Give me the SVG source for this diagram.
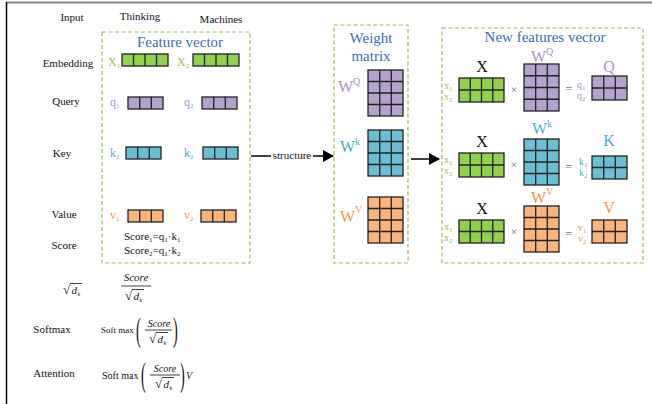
<svg xmlns="http://www.w3.org/2000/svg" width="652" height="404" viewBox="0 0 652 404">
<style>
text{font-family:"Liberation Serif","Times New Roman",serif;}
.lbl{font-size:11px;fill:#111;text-anchor:middle;}
.ttl{font-size:15px;fill:#3d6db5;text-anchor:middle;}
.box{fill:none;stroke:#9bbb59;stroke-width:1.2;stroke-dasharray:4 2.5;}
.g{fill:#92d050;}.p{fill:#b4a3cc;}.b{fill:#6cbed3;}.o{fill:#f8b57e;}
.gr rect{stroke:#222;stroke-width:1.3;}
.gr path{stroke:#222;stroke-width:1.3;fill:none;}
.tg{fill:#9bbb59;}.tp{fill:#a892c6;}.tb{fill:#4bacc6;}.to{fill:#f79646;}
.v{font-size:12px;}
.sm{font-size:10px;}
.big{font-size:16px;}
.X{font-size:16px;fill:#111;text-anchor:middle;}
.op{font-size:12px;fill:#777;text-anchor:middle;}
.it{font-style:italic;}
.conn line{stroke:#000;stroke-width:1.5;}
</style>
<defs>
<marker id="ah" markerWidth="11" markerHeight="12" refX="10" refY="6" orient="auto" markerUnits="userSpaceOnUse">
<path d="M0,0 L11,6 L0,12 z" fill="#000"/>
</marker>
<g id="sq">
<text x="0" y="10" style="font-size:13px" fill="#111">√</text>
<line x1="7" y1="-0.5" x2="19" y2="-0.5" stroke="#111" stroke-width="0.8"/>
<text x="8.5" y="10" class="it" style="font-size:11px" fill="#111">d</text>
<text x="14.5" y="12" class="it" style="font-size:6px" fill="#111">k</text>
</g>
</defs>

<!-- frame -->
<line x1="6" y1="2.5" x2="652" y2="2.5" stroke="#888" stroke-width="2"/>
<line x1="6.5" y1="2" x2="6.5" y2="404" stroke="#000" stroke-width="1.5"/>

<!-- row labels -->
<g id="labels">
<text class="lbl" x="72" y="21">Input</text>
<text class="lbl" x="140" y="20">Thinking</text>
<text class="lbl" x="221" y="23">Machines</text>
<text class="lbl" x="68" y="67">Embedding</text>
<text class="lbl" x="66" y="105">Query</text>
<text class="lbl" x="62" y="157">Key</text>
<text class="lbl" x="64" y="218">Value</text>
<text class="lbl" x="64" y="249">Score</text>
<text class="lbl" x="52" y="333">Softmax</text>
<text class="lbl" x="54" y="377">Attention</text>
</g>

<!-- Feature vector -->
<g id="feature-vector">
<rect class="box" x="102" y="32" width="148" height="231"/>
<text class="ttl" x="180" y="47">Feature vector</text>
<text class="tg v" x="108" y="66">X<tspan dy="2" style="font-size:7px">1</tspan></text>
<g class="gr"><rect class="g" x="122" y="54" width="46" height="12"/><path d="M133.5,54v12M145,54v12M156.5,54v12"/></g>
<text class="tg v" x="177" y="66">X<tspan dy="2" style="font-size:7px">2</tspan></text>
<g class="gr"><rect class="g" x="193" y="54" width="46" height="12"/><path d="M204.5,54v12M216,54v12M227.5,54v12"/></g>

<text class="tp v" x="110" y="106">q<tspan dy="2" style="font-size:7px">1</tspan></text>
<g class="gr"><rect class="p" x="128" y="97" width="35" height="12"/><path d="M139.7,97v12M151.3,97v12"/></g>
<text class="tp v" x="184" y="106">q<tspan dy="2" style="font-size:7px">2</tspan></text>
<g class="gr"><rect class="p" x="202" y="97" width="35" height="12"/><path d="M213.7,97v12M225.3,97v12"/></g>

<text class="tb v" x="110" y="157">k<tspan dy="2" style="font-size:7px">1</tspan></text>
<g class="gr"><rect class="b" x="126" y="147" width="35" height="12"/><path d="M137.7,147v12M149.3,147v12"/></g>
<text class="tb v" x="184" y="157">k<tspan dy="2" style="font-size:7px">2</tspan></text>
<g class="gr"><rect class="b" x="203" y="147" width="35" height="12"/><path d="M214.7,147v12M226.3,147v12"/></g>

<text class="to v" x="110" y="219">v<tspan dy="2" style="font-size:7px">1</tspan></text>
<g class="gr"><rect class="o" x="128" y="210" width="35" height="12"/><path d="M139.7,210v12M151.3,210v12"/></g>
<text class="to v" x="184" y="219">v<tspan dy="2" style="font-size:7px">2</tspan></text>
<g class="gr"><rect class="o" x="201" y="210" width="35" height="12"/><path d="M212.7,210v12M224.3,210v12"/></g>

<text x="124" y="240" style="font-size:11px" fill="#111">Score<tspan dy="2" style="font-size:7px">1</tspan><tspan dy="-2">=q</tspan><tspan dy="2" style="font-size:7px">1</tspan><tspan dy="-2">·k</tspan><tspan dy="2" style="font-size:7px">1</tspan></text>
<text x="124" y="254" style="font-size:11px" fill="#111">Score<tspan dy="2" style="font-size:7px">2</tspan><tspan dy="-2">=q</tspan><tspan dy="2" style="font-size:7px">1</tspan><tspan dy="-2">·k</tspan><tspan dy="2" style="font-size:7px">2</tspan></text>
</g>

<!-- formulas -->
<g id="formulas">
<use href="#sq" x="63" y="284"/>
<text x="136" y="281" class="it" text-anchor="middle" style="font-size:11px" fill="#111">Score</text>
<line x1="121" y1="286" x2="151" y2="286" stroke="#111" stroke-width="0.8"/>
<use href="#sq" x="125" y="290"/>

<text x="101" y="333" style="font-size:9px" fill="#111">Soft max</text>
<text x="0" y="0" transform="translate(136,341) scale(0.42,1)" style="font-size:34px" fill="#111">(</text>
<text x="159" y="327" class="it" text-anchor="middle" style="font-size:10px" fill="#111">Score</text>
<line x1="145" y1="330" x2="172" y2="330" stroke="#111" stroke-width="0.8"/>
<use href="#sq" x="149" y="333"/>
<text x="0" y="0" transform="translate(173,341) scale(0.42,1)" style="font-size:34px" fill="#111">)</text>

<text x="102" y="379" style="font-size:10px" fill="#111">Soft max</text>
<text x="0" y="0" transform="translate(141,386) scale(0.42,1)" style="font-size:34px" fill="#111">(</text>
<text x="165" y="372" class="it" text-anchor="middle" style="font-size:10px" fill="#111">Score</text>
<line x1="150" y1="375" x2="180" y2="375" stroke="#111" stroke-width="0.8"/>
<use href="#sq" x="155" y="378"/>
<text x="0" y="0" transform="translate(180,386) scale(0.42,1)" style="font-size:34px" fill="#111">)</text>
<text x="186" y="379" class="it" style="font-size:10px" fill="#111">V</text>
</g>

<!-- Weight matrix -->
<g id="weight-matrix">
<rect class="box" x="334" y="25" width="74" height="238"/>
<text class="ttl" x="371" y="43">Weight</text>
<text class="ttl" x="371" y="61">matrix</text>
<text class="tp big" x="338" y="92">W<tspan dy="-7" style="font-size:10px">Q</tspan></text>
<g class="gr"><rect class="p" x="368" y="70" width="35" height="46"/><path d="M379.7,70v46M391.3,70v46M368,81.5h35M368,93h35M368,104.5h35"/></g>
<text class="tb big" x="340" y="152">W<tspan dy="-7" style="font-size:10px">k</tspan></text>
<g class="gr"><rect class="b" x="368" y="130" width="35" height="46"/><path d="M379.7,130v46M391.3,130v46M368,141.5h35M368,153h35M368,164.5h35"/></g>
<text class="to big" x="340" y="222">W<tspan dy="-9" style="font-size:10px">V</tspan></text>
<g class="gr"><rect class="o" x="368" y="197" width="35" height="46"/><path d="M379.7,197v46M391.3,197v46M368,208.5h35M368,220h35M368,231.5h35"/></g>
</g>

<!-- New features vector -->
<g id="new-features">
<rect class="box" x="442" y="28" width="201" height="235"/>
<text class="ttl" x="545" y="42">New features vector</text>

<!-- Q row -->
<text class="X" x="482" y="72">X</text>
<text class="tg sm" x="444" y="89">x<tspan dy="2" style="font-size:7px">1</tspan></text>
<text class="tg sm" x="444" y="100">x<tspan dy="2" style="font-size:7px">2</tspan></text>
<g class="gr"><rect class="g" x="459" y="78" width="45" height="24"/><path d="M470.25,78v24M481.5,78v24M492.75,78v24M459,90h45"/></g>
<text class="op" x="514" y="94">×</text>
<text class="tp big" x="531" y="62">W<tspan dy="-7" style="font-size:10px">Q</tspan></text>
<g class="gr"><rect class="p" x="524" y="64" width="35" height="47"/><path d="M535.7,64v47M547.3,64v47M524,75.75h35M524,87.5h35M524,99.25h35"/></g>
<text class="op" x="569" y="93">=</text>
<text class="tp sm" x="577" y="88">q<tspan dy="2" style="font-size:7px">1</tspan></text>
<text class="tp sm" x="577" y="99">q<tspan dy="2" style="font-size:7px">2</tspan></text>
<text class="tp big" x="609" y="72" text-anchor="middle">Q</text>
<g class="gr"><rect class="p" x="592" y="76" width="35" height="24"/><path d="M603.7,76v24M615.3,76v24M592,88h35"/></g>

<!-- K row -->
<text class="X" x="482" y="147">X</text>
<text class="tg sm" x="444" y="163">x<tspan dy="2" style="font-size:7px">1</tspan></text>
<text class="tg sm" x="444" y="174">x<tspan dy="2" style="font-size:7px">2</tspan></text>
<g class="gr"><rect class="g" x="459" y="153" width="45" height="24"/><path d="M470.25,153v24M481.5,153v24M492.75,153v24M459,165h45"/></g>
<text class="op" x="514" y="169">×</text>
<text class="tb big" x="532" y="134">W<tspan dy="-7" style="font-size:10px">k</tspan></text>
<g class="gr"><rect class="b" x="524" y="139" width="35" height="46"/><path d="M535.7,139v46M547.3,139v46M524,150.5h35M524,162h35M524,173.5h35"/></g>
<text class="op" x="569" y="171">=</text>
<text class="tb sm" x="579" y="165">k<tspan dy="2" style="font-size:7px">1</tspan></text>
<text class="tb sm" x="579" y="176">k<tspan dy="2" style="font-size:7px">2</tspan></text>
<text class="tb big" x="609" y="146" text-anchor="middle">K</text>
<g class="gr"><rect class="b" x="592" y="156" width="35" height="23"/><path d="M603.7,156v23M615.3,156v23M592,167.5h35"/></g>

<!-- V row -->
<text class="X" x="482" y="214">X</text>
<text class="tg sm" x="444" y="230">x<tspan dy="2" style="font-size:7px">1</tspan></text>
<text class="tg sm" x="444" y="241">x<tspan dy="2" style="font-size:7px">2</tspan></text>
<g class="gr"><rect class="g" x="459" y="220" width="45" height="23"/><path d="M470.25,220v23M481.5,220v23M492.75,220v23M459,231.5h45"/></g>
<text class="op" x="514" y="236">×</text>
<text class="to big" x="531" y="203">W<tspan dy="-8" style="font-size:10px">V</tspan></text>
<g class="gr"><rect class="o" x="524" y="206" width="35" height="46"/><path d="M535.7,206v46M547.3,206v46M524,217.5h35M524,229h35M524,240.5h35"/></g>
<text class="op" x="569" y="238">=</text>
<text class="to sm" x="578" y="231">v<tspan dy="2" style="font-size:7px">1</tspan></text>
<text class="to sm" x="578" y="242">v<tspan dy="2" style="font-size:7px">2</tspan></text>
<text class="to big" x="609" y="213" text-anchor="middle">V</text>
<g class="gr"><rect class="o" x="592" y="220" width="35" height="23"/><path d="M603.7,220v23M615.3,220v23M592,231.5h35"/></g>
</g>

<!-- connectors -->
<g class="conn" id="connectors">
<line x1="251" y1="156" x2="271" y2="156"/>
<line x1="313" y1="156" x2="333" y2="156" marker-end="url(#ah)"/>
<text x="292" y="159" text-anchor="middle" style="font-size:11px" fill="#111">structure</text>
<line x1="411" y1="159" x2="439" y2="159" marker-end="url(#ah)"/>
</g>
</svg>
